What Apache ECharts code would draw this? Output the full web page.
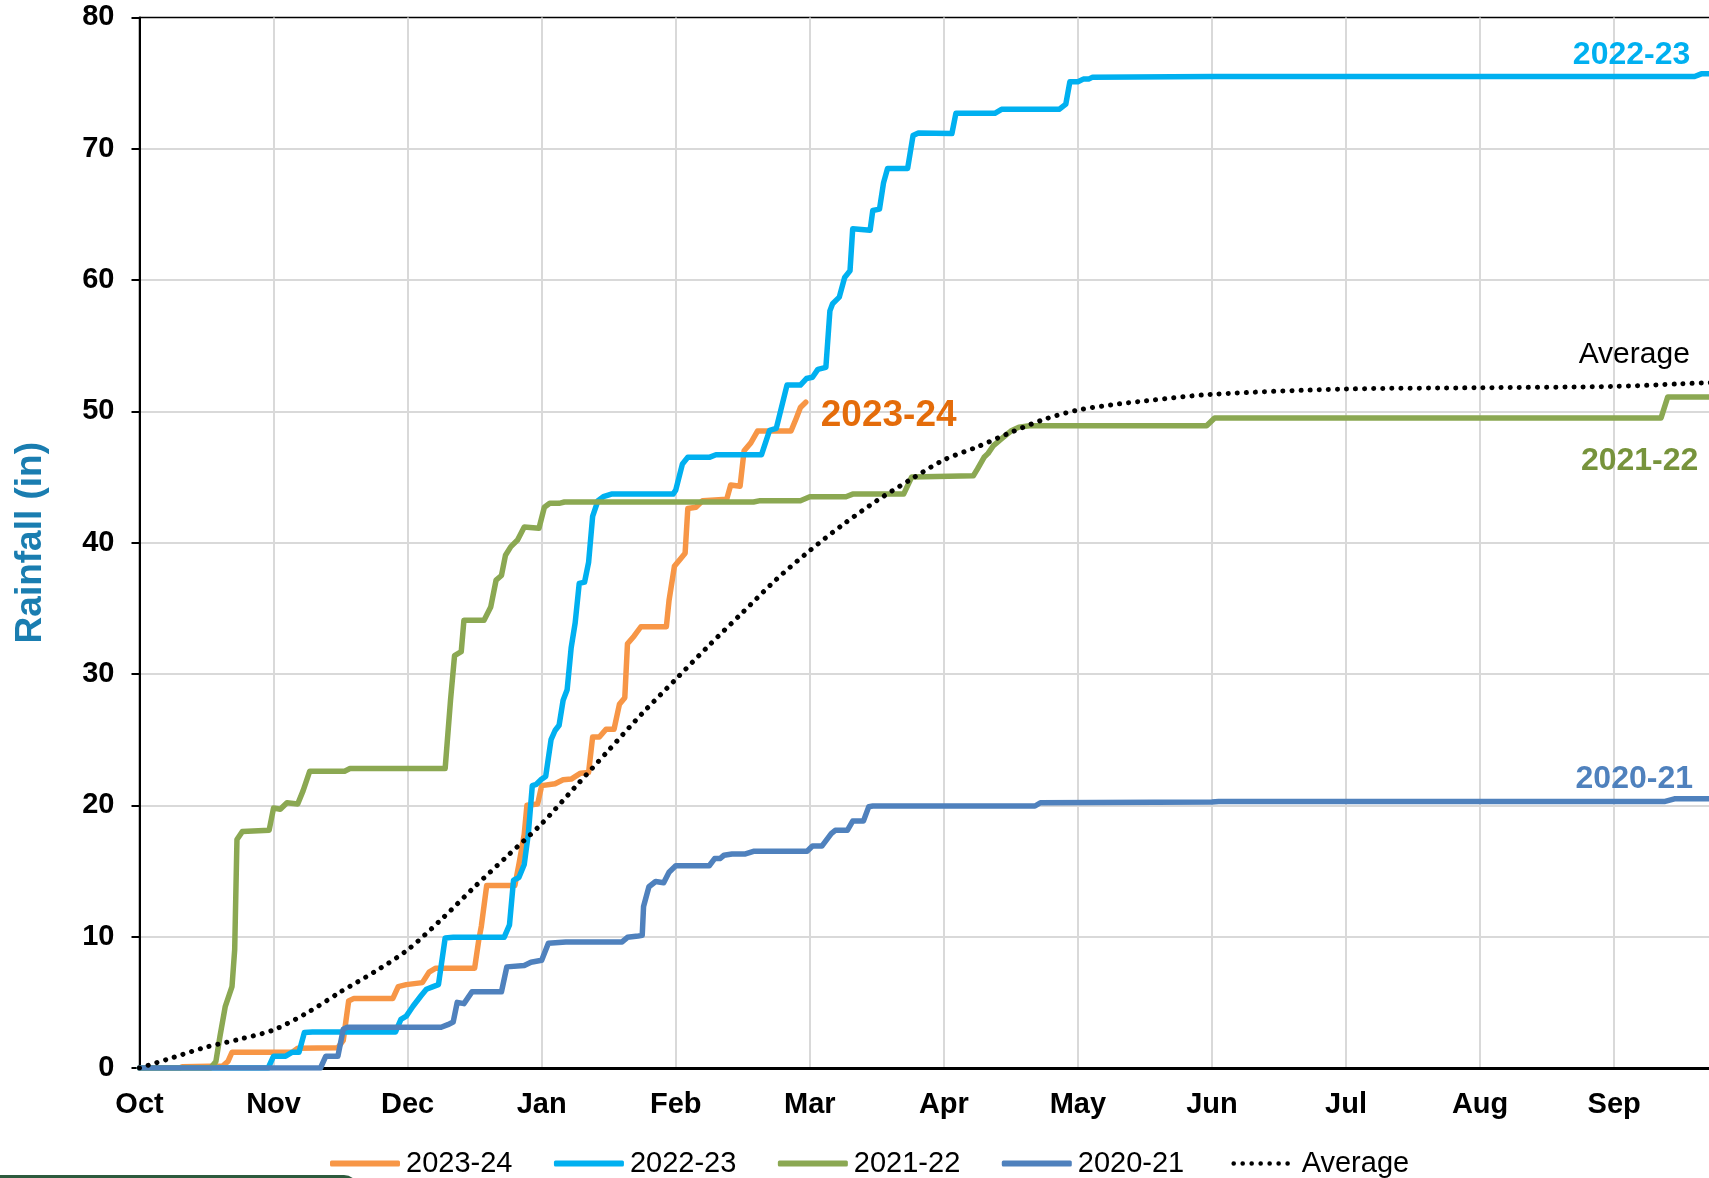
<!DOCTYPE html>
<html>
<head>
<meta charset="utf-8">
<title>Cumulative Rainfall</title>
<script src="https://cdn.jsdelivr.net/npm/echarts@6/dist/echarts.min.js"></script>
<style>
  html, body { margin: 0; padding: 0; background: #fff; }
  #chart { width: 1709px; height: 1178px; }
</style>
</head>
<body>
<div id="chart"></div>
<script>
// x values are months since Oct 1 (0 = Oct, 12 = next Oct)
var monthLabels = ['Oct', 'Nov', 'Dec', 'Jan', 'Feb', 'Mar', 'Apr', 'May', 'Jun', 'Jul', 'Aug', 'Sep', 'Oct'];
var yTicks = [0, 10, 20, 30, 40, 50, 60, 70, 80];
var seasonNames = ['2023-24', '2022-23', '2021-22', '2020-21', 'Average'];

var rain2324 = [
  [0, 0], [0.3, 0], [0.32, 0.1], [0.62, 0.15], [0.66, 0.5], [0.69, 1.2], [1.14, 1.2], [1.18, 1.5],
  [1.48, 1.55], [1.52, 2.1], [1.56, 5.1], [1.6, 5.3], [1.89, 5.3], [1.93, 6.2], [1.99, 6.35],
  [2.11, 6.5], [2.16, 7.3], [2.21, 7.6], [2.5, 7.6], [2.53, 9.7], [2.55, 10.8], [2.59, 13.9],
  [2.8, 13.9], [2.83, 15.5], [2.87, 17.8], [2.89, 20.0], [2.97, 20.1], [3.0, 21.5], [3.1, 21.65],
  [3.16, 21.95], [3.22, 22.0], [3.29, 22.45], [3.35, 22.5], [3.38, 25.2], [3.43, 25.2], [3.48, 25.8],
  [3.54, 25.8], [3.58, 27.7], [3.62, 28.2], [3.64, 32.3], [3.69, 32.9], [3.74, 33.6], [3.93, 33.6],
  [3.95, 35.6], [3.99, 38.2], [4.03, 38.7], [4.07, 39.2], [4.09, 42.6], [4.15, 42.7], [4.2, 43.2],
  [4.38, 43.3], [4.41, 44.4], [4.48, 44.3], [4.51, 47.0], [4.56, 47.6], [4.61, 48.5], [4.86, 48.5],
  [4.9, 49.5], [4.93, 50.3], [4.97, 50.7]
];

var rain2223 = [
  [0, 0], [0.96, 0], [1.0, 0.9], [1.09, 0.9], [1.14, 1.2], [1.19, 1.2], [1.23, 2.7], [1.29, 2.75],
  [1.91, 2.75], [1.95, 3.7], [1.99, 3.95], [2.04, 4.7], [2.1, 5.5], [2.14, 6.0], [2.19, 6.2],
  [2.23, 6.35], [2.28, 9.9], [2.34, 9.95], [2.72, 9.95], [2.76, 10.9], [2.79, 14.3], [2.83, 14.5],
  [2.87, 15.5], [2.9, 17.8], [2.93, 21.5], [2.96, 21.6], [3.0, 22.0], [3.03, 22.2], [3.07, 25.0],
  [3.1, 25.7], [3.13, 26.1], [3.16, 28.0], [3.19, 28.8], [3.22, 32.0], [3.25, 33.9], [3.28, 36.9],
  [3.32, 37.0], [3.35, 38.5], [3.38, 42.0], [3.42, 43.2], [3.46, 43.5], [3.52, 43.7], [3.98, 43.7],
  [4.0, 44.0], [4.05, 46.0], [4.09, 46.5], [4.25, 46.5], [4.3, 46.7], [4.64, 46.7], [4.7, 48.55],
  [4.75, 48.7], [4.83, 52.0], [4.93, 52.0], [4.975, 52.5], [5.02, 52.6], [5.06, 53.2], [5.12, 53.35],
  [5.15, 57.65], [5.17, 58.2], [5.22, 58.7], [5.26, 60.2], [5.3, 60.7], [5.32, 63.9], [5.45, 63.8],
  [5.47, 65.3], [5.52, 65.4], [5.55, 67.4], [5.58, 68.5], [5.73, 68.5], [5.77, 71.0], [5.81, 71.2],
  [6.06, 71.15], [6.09, 72.7], [6.38, 72.7], [6.43, 73.0], [6.86, 73.0], [6.91, 73.4], [6.94, 75.1],
  [7.0, 75.1], [7.04, 75.3], [7.08, 75.3], [7.11, 75.45], [8.0, 75.5], [11.6, 75.5], [11.65, 75.7],
  [12, 75.7]
];

var rain2122 = [
  [0, 0], [0.53, 0], [0.57, 0.5], [0.6, 2.4], [0.64, 4.7], [0.69, 6.2], [0.71, 9.0], [0.727, 17.4],
  [0.767, 18.0], [0.967, 18.1], [1.0, 19.8], [1.05, 19.7], [1.1, 20.2], [1.18, 20.1], [1.22, 21.1],
  [1.27, 22.6], [1.53, 22.6], [1.57, 22.8], [2.28, 22.8], [2.32, 28.0], [2.35, 31.4], [2.4, 31.7],
  [2.42, 34.1], [2.57, 34.1], [2.62, 35.1], [2.66, 37.15], [2.7, 37.5], [2.73, 39.05], [2.77, 39.7],
  [2.82, 40.2], [2.87, 41.2], [2.98, 41.1], [3.02, 42.7], [3.06, 43.0], [3.13, 43.0], [3.17, 43.1],
  [4.58, 43.1], [4.63, 43.2], [4.93, 43.2], [5.0, 43.5], [5.27, 43.5], [5.32, 43.7], [5.7, 43.7],
  [5.76, 45.0], [6.22, 45.1], [6.25, 45.6], [6.3, 46.5], [6.33, 46.8], [6.37, 47.4], [6.44, 48.0],
  [6.5, 48.5], [6.56, 48.8], [6.64, 48.9], [7.96, 48.9], [8.02, 49.5], [11.35, 49.5], [11.4, 51.1],
  [12, 51.1]
];

var rain2021 = [
  [0, 0], [1.35, 0], [1.39, 0.9], [1.48, 0.9], [1.52, 2.95], [1.55, 3.1], [2.25, 3.1], [2.3, 3.3],
  [2.34, 3.5], [2.37, 5.0], [2.42, 4.9], [2.48, 5.8], [2.7, 5.8], [2.74, 7.7], [2.87, 7.8],
  [2.92, 8.05], [3.0, 8.2], [3.05, 9.5], [3.18, 9.6], [3.6, 9.6], [3.64, 9.95], [3.72, 10.05],
  [3.75, 10.1], [3.76, 12.3], [3.8, 13.8], [3.85, 14.2], [3.91, 14.1], [3.95, 14.9], [4.0, 15.4],
  [4.25, 15.4], [4.29, 15.95], [4.33, 15.95], [4.36, 16.2], [4.42, 16.3], [4.52, 16.3], [4.58, 16.5],
  [4.98, 16.5], [5.02, 16.9], [5.09, 16.9], [5.16, 17.85], [5.19, 18.1], [5.28, 18.1], [5.32, 18.8],
  [5.4, 18.8], [5.44, 19.9], [5.47, 19.95], [6.68, 19.95], [6.72, 20.2], [8.0, 20.25], [8.05, 20.3],
  [11.38, 20.3], [11.45, 20.5], [12, 20.5]
];

var rainAvg = [
  [0, 0], [0.25, 0.8], [0.5, 1.6], [0.75, 2.2], [1.0, 2.9], [1.25, 4.2], [1.5, 5.8], [1.75, 7.3],
  [2.0, 9.0], [2.25, 11.3], [2.5, 13.8], [2.75, 16.2], [3.0, 18.6], [3.25, 21.4], [3.5, 24.2],
  [3.75, 27.0], [4.0, 29.6], [4.25, 32.2], [4.5, 34.7], [4.75, 37.2], [5.0, 39.4], [5.25, 41.4],
  [5.5, 43.2], [5.75, 44.8], [6.0, 46.3], [6.25, 47.3], [6.5, 48.4], [6.75, 49.4], [7.0, 50.1],
  [7.25, 50.5], [7.5, 50.8], [8, 51.3], [9, 51.7], [10, 51.8], [11, 51.9], [11.5, 52.1], [12, 52.3]
];

var FONT = '"Liberation Sans", Arial, sans-serif';
var chart = echarts.init(document.getElementById('chart'), null, { renderer: 'canvas' });

// dotted legend icon: seven small dots, inset inside a 70 x 6 box
var dotsIcon = 'path://M0,0 a0.01,0.01 0 1,0 0.02,0 M69.98,6 a0.01,0.01 0 1,0 0.02,0 ';
for (var i = 0; i < 7; i++) {
  var cx = 8 + i * 9;
  dotsIcon += 'M' + (cx - 2.3) + ',3 a2.3,2.3 0 1,0 4.6,0 a2.3,2.3 0 1,0 -4.6,0 ';
}

// text tag placed in data space beside a line
function tag(text, coord, color, weight, size) {
  return {
    symbol: 'circle', symbolSize: 0, silent: true,
    data: [{ coord: coord }],
    label: {
      show: true, position: 'inside', formatter: text,
      color: color, fontFamily: FONT, fontSize: size, fontWeight: weight
    }
  };
}

function lineSeries(name, data, color, extra) {
  var s = {
    name: name, type: 'line', data: data, symbol: 'none', showSymbol: false,
    animation: false,
    lineStyle: { color: color, width: 5.5, join: 'round', cap: 'round' },
    itemStyle: { color: color }
  };
  return Object.assign(s, extra || {});
}

var option = {
  backgroundColor: '#fff',
  animation: false,
  grid: {
    left: 139.5, top: 17.4, width: 1608.7, bottom: 110,
    containLabel: false, outerBoundsMode: 'none',
    show: true, borderColor: '#000', borderWidth: 1.5
  },
  xAxis: {
    type: 'value', min: 0, max: 12, interval: 1,
    axisLine: { lineStyle: { color: '#000', width: 3 } },
    axisTick: { show: false },
    splitLine: { show: true, showMinLine: false, lineStyle: { color: '#D9D9D9', width: 2 } },
    axisLabel: {
      margin: 22, color: '#000', fontFamily: FONT, fontSize: 29, fontWeight: 'bold',
      formatter: function (v) { return monthLabels[v]; }
    }
  },
  yAxis: {
    type: 'value', min: yTicks[0], max: yTicks[yTicks.length - 1], interval: 10,
    name: 'Rainfall (in)', nameLocation: 'middle', nameGap: 90, nameRotate: 90,
    nameTextStyle: { color: '#1A7DB0', fontFamily: FONT, fontSize: 37, fontWeight: 'bold' },
    axisLine: { show: true, lineStyle: { color: '#000', width: 2 } },
    axisTick: { show: true, inside: false, length: 8, lineStyle: { color: '#000', width: 2 } },
    splitLine: { show: true, showMaxLine: false, lineStyle: { color: '#D9D9D9', width: 2 } },
    axisLabel: { margin: 25, color: '#000', fontFamily: FONT, fontSize: 29, fontWeight: 'bold' }
  },
  legend: {
    left: 325, top: 1144,
    itemWidth: 70, itemHeight: 6, itemGap: 41.5,
    textStyle: { color: '#000', fontFamily: FONT, fontSize: 29, padding: [0, 0, 0, 1] },
    data: [
      { name: seasonNames[0], icon: 'roundRect' },
      { name: seasonNames[1], icon: 'roundRect' },
      { name: seasonNames[2], icon: 'roundRect' },
      { name: seasonNames[3], icon: 'roundRect' },
      { name: seasonNames[4], icon: dotsIcon }
    ]
  },
  series: [
    lineSeries(seasonNames[0], rain2324, '#F79646', {
      endLabel: {
        show: true, formatter: '2023-24', offset: [7, 14],
        color: '#E46C0A', fontFamily: FONT, fontSize: 37, fontWeight: 'bold'
      }
    }),
    lineSeries(seasonNames[1], rain2223, '#00B0F0', {
      markPoint: tag('2022-23', [11.13, 77.1], '#00B0F0', 'bold', 32)
    }),
    lineSeries(seasonNames[2], rain2122, '#8BA852', {
      markPoint: tag('2021-22', [11.19, 46.2], '#77933C', 'bold', 32)
    }),
    lineSeries(seasonNames[3], rain2021, '#4F81BD', {
      markPoint: tag('2020-21', [11.15, 22.0], '#4F81BD', 'bold', 32)
    }),
    {
      name: seasonNames[4], type: 'line', data: rainAvg, symbol: 'none', showSymbol: false,
      smooth: 0.3, animation: false,
      lineStyle: { color: '#000', width: 5, type: [0.1, 9], cap: 'round' },
      itemStyle: { color: '#000' },
      markPoint: tag('Average', [11.15, 54.3], '#000', 'normal', 30)
    }
  ],
  graphic: [{
    type: 'rect', silent: true,
    shape: { x: -20, y: 1175, width: 378, height: 40, r: 14 },
    style: { fill: '#2D5B3D' }
  }]
};

chart.setOption(option);
</script>
</body>
</html>
